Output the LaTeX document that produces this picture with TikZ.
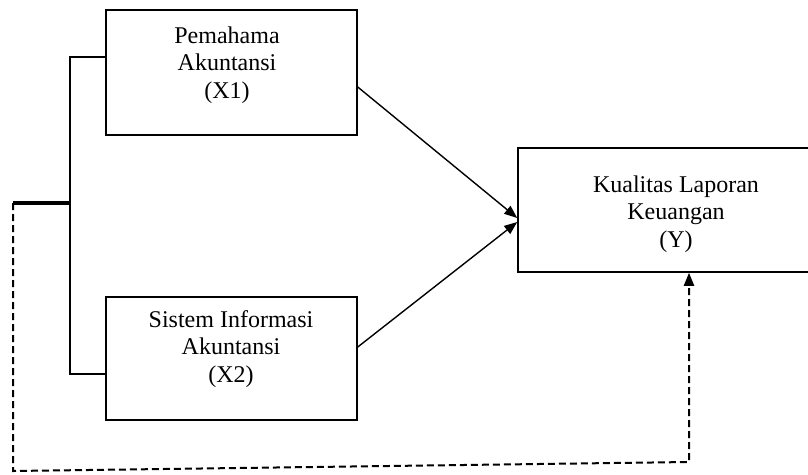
\documentclass[tikz,border=0pt]{standalone}
\usepackage{fontspec}
\setmainfont{Liberation Serif}
\usetikzlibrary{arrows.meta}

\tikzset{
  kotak/.style={draw, line width=1.5pt, inner sep=0pt},
  teks/.style={align=center, inner sep=0pt, font=\fontsize{24}{27.5}\selectfont},
  panah/.style={line width=1.4pt, -{Triangle[length=13pt,width=10pt]}},
  putus/.style={line width=2pt, dash pattern=on 7pt off 4pt}
}

\begin{document}
\begin{tikzpicture}[x=1pt, y=-1pt]
    \useasboundingbox (0,0) rectangle (808,474);
    \clip (0,0) rectangle (808,474);

    % variabel X1
    \node[kotak, minimum width=251pt, minimum height=125pt] (x1) at (231.5,72.5) {};
    \node[teks] (x1t) at (227,65) {Pemahama\\Akuntansi\\(X1)};

    % variabel X2
    \node[kotak, minimum width=251pt, minimum height=123pt] (x2) at (231.5,358.5) {};
    \node[teks] (x2t) at (231,349) {Sistem Informasi\\Akuntansi\\(X2)};

    % variabel Y
    \node[kotak, minimum width=316pt, minimum height=124pt] (y) at (676,210) {};
    \node[teks] (yt) at (676,214) {Kualitas Laporan\\Keuangan\\(Y)};

    % garis penghubung X1 dan X2
    \coordinate (j1) at (70,57);
    \coordinate (j2) at (70,374);
    \coordinate (jm) at (70,203);
    \coordinate (s) at (13,203);
    \draw[line width=1.3pt] (x1.west |- j1) -- (j1) -- (j2) -- (x2.west |- j2);
    \draw[line width=3.2pt] (s) -- (jm);

    % pengaruh parsial
    \draw[panah] ([yshift=-14.5pt]x1.east) -- ([yshift=-8pt]y.west);
    \draw[panah] ([yshift=11.5pt]x2.east) -- ([yshift=-12pt]y.west);

    % pengaruh simultan
    \coordinate (b1) at (13,471);
    \coordinate (b2) at (689,462);
    \draw[putus, -{Triangle[length=13pt,width=10pt]}] (s) -- (b1) -- (b2) -- (b2 |- y.south);
\end{tikzpicture}
\end{document}
